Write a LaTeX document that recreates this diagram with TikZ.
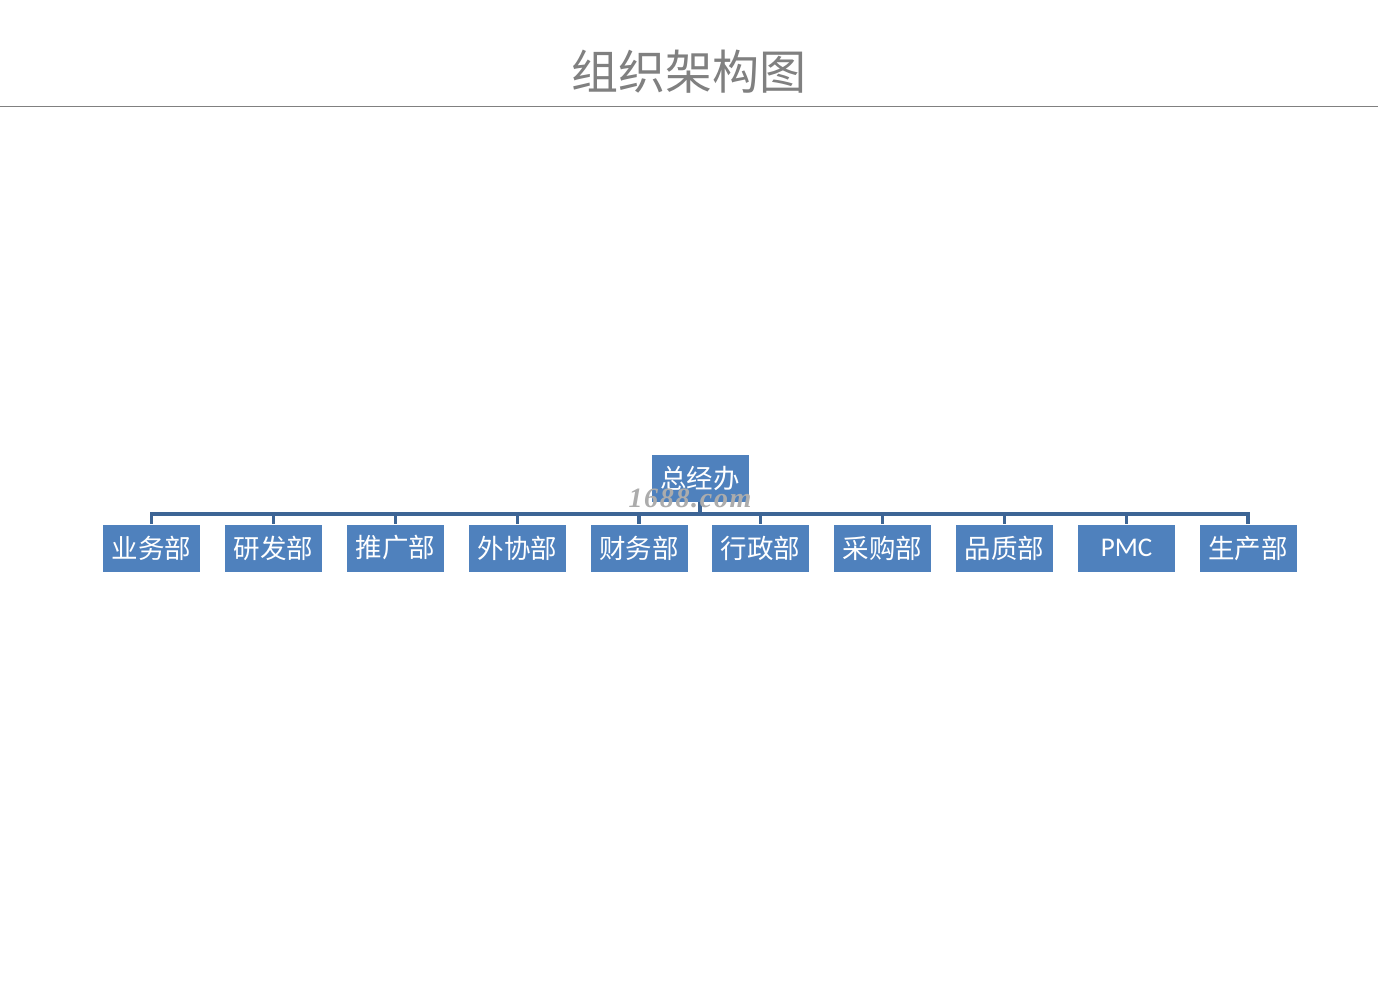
\documentclass[tikz,border=0pt]{standalone}
\usepackage{fontspec}
\newfontfamily\cjk{Noto Sans CJK SC}
\newfontfamily\latinsans{Carlito}
\newfontfamily\wmfont[LetterSpace=6]{Liberation Serif}
\definecolor{boxblue}{HTML}{4F81BD}
\definecolor{linkblue}{HTML}{3D6595}
\definecolor{titlegray}{HTML}{808080}
\begin{document}
\begin{tikzpicture}[x=1pt,y=-1pt,
  orgbox/.style={fill=boxblue,draw=none,minimum width=97pt,minimum height=47pt,inner sep=0pt,text=white,font=\cjk\fontsize{26.5}{28}\selectfont},
  link/.style={draw=linkblue,line width=3.5pt}]
\useasboundingbox[fill=white] (0,0) rectangle (1378,988);
\node[text=titlegray,font=\cjk\fontsize{47}{50}\selectfont] (title) at (689,72) {组织架构图};
\draw[titlegray,line width=1pt] (0,106) coordinate (rl) -- (1378,106) coordinate (rr);
\node[orgbox] (top) at (700,478.5) {总经办};
\foreach \i/\x/\t in {1/151.5/业务部,2/273.5/研发部,3/395.5/推广部,4/517.5/外协部,5/639/财务部,6/760.5/行政部,7/882.5/采购部,8/1004.5/品质部,10/1248/生产部}{
  \node[orgbox] (c\i) at (\x,548) {\t};
}
\node[orgbox,font=\latinsans\fontsize{27}{28}\selectfont] (c9) at (1126.5,548) {PMC};
\foreach \i in {1,...,10}{
  \draw[link] (top.south) -- ++(0,12) -| (c\i.north);
}
\node[text=gray!65,inner sep=0pt,font=\wmfont\bfseries\itshape\fontsize{28}{28}\selectfont] (wm) at (690,498) {1688.com};
\end{tikzpicture}
\end{document}
